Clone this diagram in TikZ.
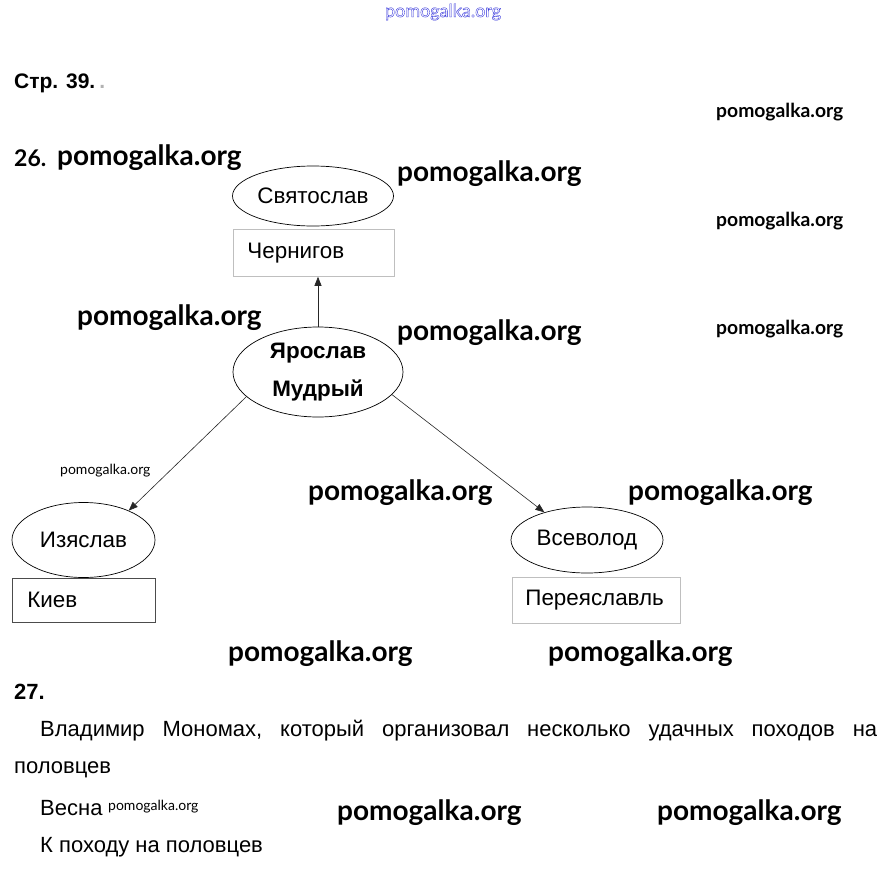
\documentclass[tikz,border=0pt]{standalone}
\usepackage{fontspec}
\setmainfont{Liberation Sans}
\newfontfamily\lato{Lato}
\usetikzlibrary{shapes.geometric,arrows.meta}
\newcommand{\outlinetext}[1]{\special{pdf:literal direct 1 Tr 0.35 w 0.15 0.15 0.85 RG}#1\special{pdf:literal direct 0 Tr}}
\tikzset{
  ell/.style={draw=black, line width=0.7pt, ellipse, inner sep=0pt, font=\fontsize{22.4}{26}\selectfont},
  boxg/.style={draw=black!25, line width=0.8pt, rectangle, align=left, font=\fontsize{22.4}{26}\selectfont, anchor=north west},
  boxk/.style={draw=black!70, line width=0.7pt, rectangle, align=left, font=\fontsize{22.4}{26}\selectfont, anchor=north west},
  wmL/.style={anchor=west, inner sep=0pt, font=\lato\bfseries\fontsize{28}{30}\selectfont},
  wmS/.style={anchor=west, inner sep=0pt, font=\lato\bfseries\fontsize{19.3}{22}\selectfont},
  wmT/.style={anchor=west, inner sep=0pt, font=\lato\fontsize{14}{16}\selectfont},
  body/.style={anchor=west, inner sep=0pt, font=\fontsize{22}{26}\selectfont},
  arr/.style={-{Triangle[length=9pt,width=7pt]}, line width=0.6pt, black!85}
}
\begin{document}
\begin{tikzpicture}[x=1pt,y=-1pt]
\useasboundingbox[fill=white] (0,0) rectangle (885,875);
% top outline watermark
\node[anchor=center, inner sep=0pt, text=blue!80!black, font=\lato\fontsize{18}{20}\selectfont] (wtop) at (443,12) {\outlinetext{pomogalka.org}};
% headings
\node[body, font=\bfseries\fontsize{21}{24}\selectfont] (str) at (14,83) {Стр. 39.\hspace{4pt}\textcolor{black!30}{.}};
\node[anchor=west, inner sep=0pt, font=\lato\bfseries\fontsize{23}{26}\selectfont] (n26) at (14,158) {26.};
\node[body, font=\bfseries\fontsize{22}{24}\selectfont] (n27) at (14,692) {27.};
% diagram
\node[ell, minimum width=161pt, minimum height=60pt] (svy) at (313,196) {Святослав};
\node[boxg, minimum width=161pt, minimum height=47pt, text width=133pt, inner xsep=14pt] (cher) at (233,229) {Чернигов};
\node[ell, minimum width=170pt, minimum height=90pt, font=\bfseries\fontsize{22.4}{38}\selectfont, align=center] (yar) at (318,372) {Ярослав\\Мудрый};
\node[ell, minimum width=143pt, minimum height=75pt] (izy) at (83.5,540) {Изяслав};
\node[boxk, minimum width=143pt, minimum height=44pt, text width=113pt, inner xsep=15pt] (kiev) at (12,578) {Киев};
\node[ell, minimum width=152pt, minimum height=66pt] (vse) at (587,540) {Всеволод};
\node[boxg, minimum width=168pt, minimum height=46pt, text width=142pt, inner xsep=13pt] (per) at (512,577) {Переяславль};
\draw[arr] (yar.north) -- (yar.north |- cher.south);
\draw[arr] (yar.-161) -- (izy.33);
\draw[arr] (yar.-17) -- (vse.147);
% watermarks
\node[wmS] (w1) at (716,112) {pomogalka.org};
\node[wmL] (w2) at (57,158) {pomogalka.org};
\node[wmL] (w3) at (397,174) {pomogalka.org};
\node[wmS] (w4) at (716,221) {pomogalka.org};
\node[wmL] (w5) at (77,318) {pomogalka.org};
\node[wmL] (w6) at (397,333) {pomogalka.org};
\node[wmS] (w7) at (716,329) {pomogalka.org};
\node[wmT] (w8) at (60,471) {pomogalka.org};
\node[wmL] (w9) at (308,493) {pomogalka.org};
\node[wmL] (w10) at (628,493) {pomogalka.org};
\node[wmL] (w11) at (228,654) {pomogalka.org};
\node[wmL] (w12) at (548,654) {pomogalka.org};
\node[wmL] (w13) at (337,813) {pomogalka.org};
\node[wmL] (w14) at (657,813) {pomogalka.org};
% body text
\node[body] (l1) at (40,731) {\hbox to 837pt{Владимир\hfill Мономах,\hfill который\hfill организовал\hfill несколько\hfill удачных\hfill походов\hfill на}};
\node[body] (l2) at (14,770) {половцев};
\node[body] (l3) at (40,808) {Весна};
\node[wmT] (w15) at (108,807) {pomogalka.org};
\node[body] (l4) at (40,847) {К походу на половцев};
\end{tikzpicture}
\end{document}
